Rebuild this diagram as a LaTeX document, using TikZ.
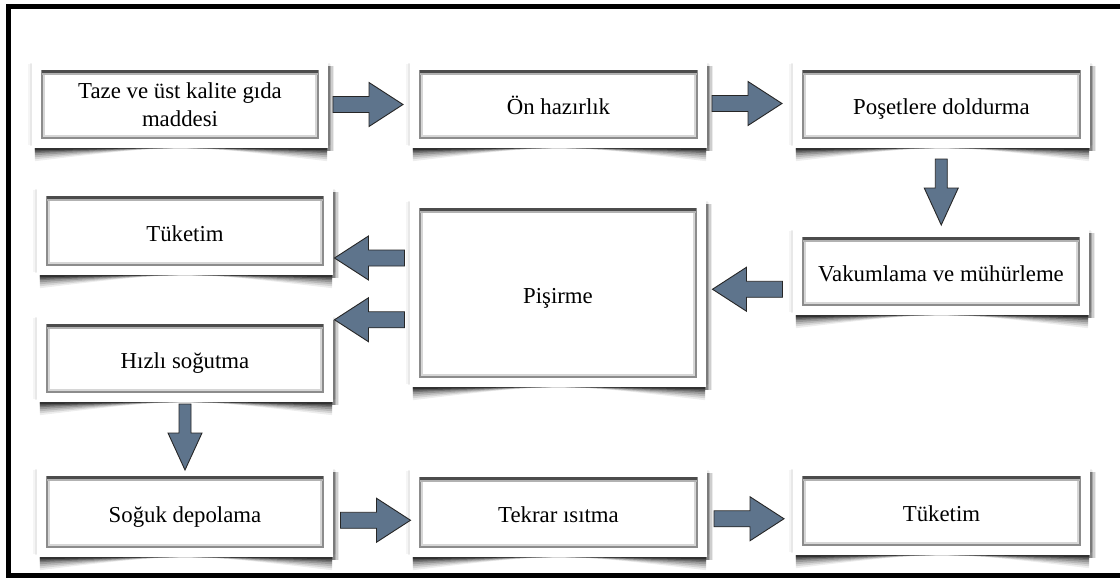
\documentclass[tikz,border=0pt]{standalone}
\usepackage{fontspec}
\setmainfont{Liberation Serif}
\usetikzlibrary{calc,backgrounds}
\definecolor{arrowc}{RGB}{94,116,140}
\tikzset{
  stepbox/.style={rectangle, fill=white, inner sep=0pt, minimum width=296pt, minimum height=87pt,
    font=\fontsize{22.8}{28}\selectfont, text height=20pt, text depth=0pt},
  twoline/.style={align=center, text height={}, text depth={}},
  blk/.style={fill=arrowc, draw=black!85, line width=0.9pt, line join=miter},
}
\newcommand\boxshadow[1]{%
  \foreach \d/\o in {13/0.07,11/0.1,9/0.13,7/0.17,5/0.22,3.5/0.3,2/0.4}{%
    \fill[black,opacity=\o] ([shift={(3,-3)}]#1.south west) -- ([shift={(-1,-3)}]#1.south east)
      -- ([shift={(-1,\d)}]#1.south east) .. controls ([shift={(0,{-\d/3})}]#1.south) .. ([shift={(3,\d)}]#1.south west) -- cycle;
  }%
  \foreach \k/\o in {6/0.08,4.5/0.12,3/0.16,1.5/0.22}{%
    \fill[black,opacity=\o] ([shift={(-1,5)}]#1.north east) rectangle ([shift={(\k,3)}]#1.south east);
  }%
  \fill[black,opacity=0.05] ([shift={(-2,-2)}]#1.south west) rectangle ([shift={(2,2)}]#1.north east);
  \fill[black,opacity=0.04] ([shift={(-3.5,-3)}]#1.south west) rectangle ([shift={(3,3.5)}]#1.north east);
}
\newcommand\boxinner[1]{%
  \draw[black!45, line width=2pt] ([shift={(10,-10.5)}]#1.south west) rectangle ([shift={(-10,10.5)}]#1.north east);
  \draw[black!16, line width=2pt] ([shift={(12,-12.5)}]#1.south west) rectangle ([shift={(-12,12.5)}]#1.north east);
  \draw[black!70, line width=2.5pt] ([shift={(10,10.5)}]#1.north west) -- ([shift={(-10,10.5)}]#1.north east);
  \draw[black!30, line width=2pt] ([shift={(10,13)}]#1.north west) -- ([shift={(-10,13)}]#1.north east);
}
\newcommand\arrR[1]{\begin{scope}[shift={#1}]\draw[blk] (-35,-8) -- (1,-8) -- (1,-22) -- (35,0) -- (1,22) -- (1,8) -- (-35,8) -- cycle;\end{scope}}
\newcommand\arrL[1]{\begin{scope}[shift={#1}]\draw[blk] (35,-8) -- (-1,-8) -- (-1,-22) -- (-35,0) -- (-1,22) -- (-1,8) -- (35,8) -- cycle;\end{scope}}
\newcommand\arrD[1]{\begin{scope}[shift={#1}]\draw[blk] (-6,-33) -- (6,-33) -- (6,-4) -- (17,-4) -- (0,33) -- (-17,-4) -- (-6,-4) -- cycle;\end{scope}}
\begin{document}
\begin{tikzpicture}[x=1pt,y=-1pt]
\useasboundingbox (0,0) rectangle (1120,578);
% boxes
\node[stepbox, twoline] (b1) at (180,104.5) {Taze ve üst kalite gıda\\maddesi};
\node[stepbox, minimum width=297pt] (b2) at (558.5,104.5) {Ön hazırlık};
\node[stepbox, minimum width=297pt] (b3) at (941.5,104.5) {Poşetlere doldurma};
\node[stepbox, minimum height=88pt] (tuk1) at (185,231) {Tüketim};
\node[stepbox] (hiz) at (185,358.5) {Hızlı soğutma};
\node[stepbox, minimum height=188pt] (pis) at (558,293) {Pişirme};
\node[stepbox] (vak) at (941,271.5) {Vakumlama ve mühürleme};
\node[stepbox, minimum height=90pt] (sog) at (185,512) {Soğuk depolama};
\node[stepbox, minimum width=297pt, minimum height=89pt] (tek) at (558.5,512.5) {Tekrar ısıtma};
\node[stepbox, minimum width=297pt, minimum height=88pt] (tuk2) at (941.5,511) {Tüketim};
\begin{pgfonlayer}{background}
  \fill[white] (0,0) rectangle (1120,578);
  \draw[line width=4.5pt] (1140,6.5) -- (8.5,6.5) -- (8.5,575.5) -- (1140,575.5);
  \foreach \n in {b1,b2,b3,tuk1,hiz,pis,vak,sog,tek,tuk2}{\boxshadow{\n}}
\end{pgfonlayer}
\foreach \n in {b1,b2,b3,tuk1,hiz,pis,vak,sog,tek,tuk2}{\boxinner{\n}}
% arrows
\arrR{($(b1.east)!0.5!(b2.west)+(-1,0)$)}
\arrR{($(b2.east)!0.5!(b3.west)+(-3,-1)$)}
\arrD{($(b3.south)!0.5!(vak.north)+(0,4)$)}
\arrL{($(vak.west)!0.5!(pis.east)+(-2,7)$)}
\arrL{($(pis.west)!0.5!(tuk1.east)+(-2,-4)$)}
\arrL{($(pis.west)!0.5!(hiz.east)+(-2,-6)$)}
\arrD{($(hiz.south)!0.5!(sog.north)+(0,2.5)$)}
\arrR{($(sog.east)!0.5!(tek.west)+(4,8)$)}
\arrR{($(tek.east)!0.5!(tuk2.west)+(-1,7)$)}
\end{tikzpicture}
\end{document}
